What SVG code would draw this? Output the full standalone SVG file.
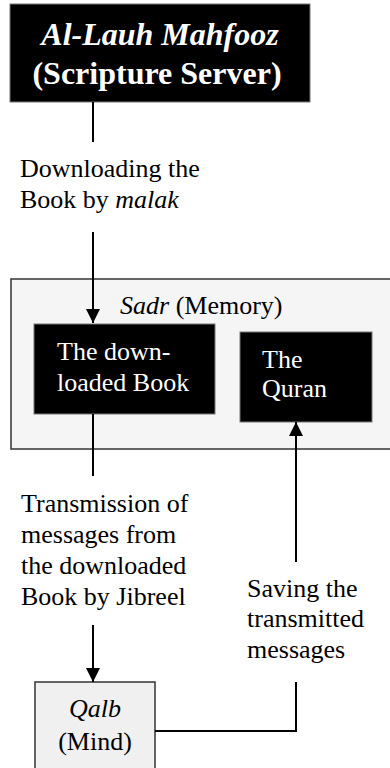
<svg xmlns="http://www.w3.org/2000/svg" width="390" height="768" viewBox="0 0 390 768">
<style>
text{font-family:'Liberation Serif','DejaVu Serif',serif;font-size:26px;fill:#000}
.w{fill:#fff}
.t{font-size:32px;font-weight:bold;fill:#fff}
.i{font-style:italic}
.dark{fill:#000;stroke:#777;stroke-width:1}
.conn{fill:none;stroke:#000;stroke-width:2}
</style>
<defs>
<marker id="ah" viewBox="0 0 14 14" refX="14" refY="7" markerWidth="14" markerHeight="14" markerUnits="userSpaceOnUse" orient="auto">
<path d="M0,0 L14,7 L0,14 Z" fill="#000"/>
</marker>
</defs>
<g id="sadr">
<rect x="11" y="279" width="381" height="170" fill="#f5f5f5" stroke="#333" stroke-width="1.5"/>
<text x="120" y="314"><tspan class="i">Sadr</tspan> (Memory)</text>
</g>
<g id="lauh">
<rect x="10" y="4" width="300" height="98" class="dark"/>
<text class="t" x="160" y="45" text-anchor="middle"><tspan class="i">Al-Lauh Mahfooz</tspan></text>
<text class="t" x="157" y="84" text-anchor="middle">(Scripture Server)</text>
</g>
<g id="book">
<rect x="34" y="324" width="181" height="90" class="dark"/>
<text class="w" x="57" y="360">The down-</text>
<text class="w" x="57" y="391">loaded Book</text>
</g>
<g id="quran">
<rect x="240" y="332" width="132" height="90" class="dark"/>
<text class="w" x="262" y="368">The</text>
<text class="w" x="262" y="397">Quran</text>
</g>
<g id="qalb">
<rect x="35" y="682" width="120" height="90" fill="#f0f0f0" stroke="#333" stroke-width="1.5"/>
<text x="95" y="717" text-anchor="middle" class="i">Qalb</text>
<text x="95" y="750" text-anchor="middle">(Mind)</text>
</g>
<g id="connectors">
<line class="conn" x1="93" y1="102" x2="93" y2="142"/>
<line class="conn" x1="93" y1="232" x2="93" y2="323" marker-end="url(#ah)"/>
<line class="conn" x1="93" y1="414" x2="93" y2="476"/>
<line class="conn" x1="93" y1="625" x2="93" y2="682" marker-end="url(#ah)"/>
<polyline class="conn" points="155,731 296,731 296,682"/>
<line class="conn" x1="296" y1="562" x2="296" y2="422" marker-end="url(#ah)"/>
</g>
<g id="labels">
<text x="20" y="177">Downloading the</text>
<text x="20" y="208">Book by <tspan class="i">malak</tspan></text>
<text x="21" y="512">Transmission of</text>
<text x="21" y="543">messages from</text>
<text x="21" y="574">the downloaded</text>
<text x="21" y="605">Book by Jibreel</text>
<text x="247" y="597">Saving the</text>
<text x="247" y="627">transmitted</text>
<text x="247" y="658">messages</text>
</g>
</svg>
